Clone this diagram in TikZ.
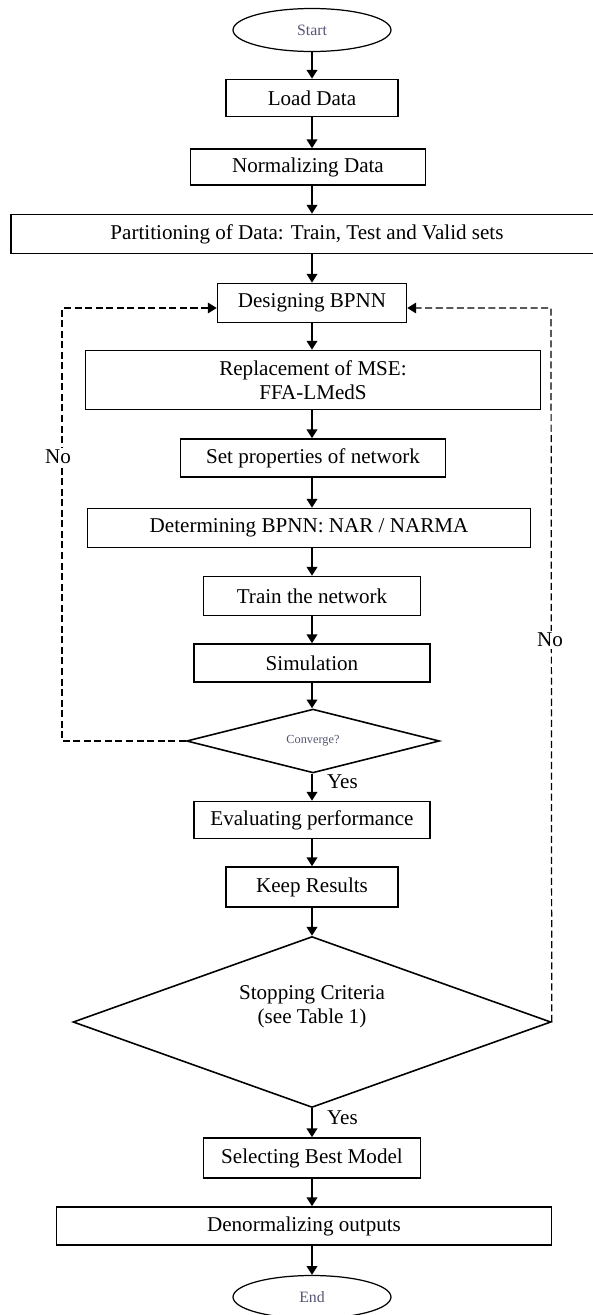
\documentclass[tikz,border=0pt]{standalone}
\usepackage{fontspec}
\setmainfont{Liberation Serif}
\usepackage{xcolor}
\usepackage{tikz}
\usetikzlibrary{arrows.meta, shapes.geometric}
\definecolor{termgray}{RGB}{85,85,115}
\newcommand{\boxfont}{\fontsize{12}{13.5}\selectfont}
\tikzset{
  block/.style={rectangle, draw=black, line width=0.9pt, align=center, font=\boxfont,
                inner sep=2pt},
  term/.style={ellipse, draw=black, line width=0.7pt, minimum width=3.16cm, minimum height=0.86cm,
               inner sep=0pt, font=\fontsize{9}{10}\selectfont, text=termgray},
  decision/.style={diamond, draw=black, line width=0.9pt, inner sep=0pt, align=center},
  arrowline/.style={-{Triangle[length=5pt,width=6pt]}, line width=1pt},
  dashline/.style={-{Triangle[length=5pt,width=6pt]}, line width=0.7pt, dash pattern=on 4pt off 2pt},
  lbl/.style={font=\boxfont, fill=white, inner sep=1pt},
}

\begin{document}
\begin{tikzpicture}[x=0.02cm, y=-0.02cm]
\useasboundingbox (0,0) rectangle (592,1315);

\node[term] (start) at (312,30) {Start};
\node[block, minimum width=3.44cm, minimum height=0.74cm] (load)   at (312,98)   {Load Data};
\node[block, minimum width=4.70cm, minimum height=0.72cm] (norm)   at (308,167)  {Normalizing Data};
\node[block, minimum width=11.84cm, minimum height=0.78cm](part)   at (307,234)  {Partitioning of Data: Train, Test and Valid sets};
\node[block, minimum width=3.78cm, minimum height=0.78cm] (design) at (312,303)  {Designing BPNN};
\node[block, minimum width=9.10cm, minimum height=1.18cm] (repl)   at (313,380)  {Replacement of MSE:\\FFA-LMedS};
\node[block, minimum width=5.30cm, minimum height=0.76cm] (setp)   at (313,458)  {Set properties of network};
\node[block, minimum width=8.86cm, minimum height=0.78cm] (detm)   at (309,528)  {Determining BPNN: NAR / NARMA};
\node[block, minimum width=4.34cm, minimum height=0.78cm] (train)  at (312,596)  {Train the network};
\node[block, minimum width=4.72cm, minimum height=0.76cm] (sim)    at (312,663)  {Simulation};
\node[decision, minimum width=5.06cm, minimum height=1.14cm, font=\fontsize{7}{8}\selectfont, text=termgray]
     (conv) at (313,741) {Converge?};
\node[block, minimum width=4.72cm, minimum height=0.74cm] (eval)   at (312,820)  {Evaluating performance};
\node[block, minimum width=3.44cm, minimum height=0.80cm] (keep)   at (312,887)  {Keep Results};
\node[decision, minimum width=9.56cm, minimum height=3.42cm,
      label={[yshift=0.3cm, align=center, font=\boxfont]center:Stopping Criteria\\(see Table 1)}]
     (stop) at (312,1022) {};
\node[block, minimum width=4.34cm, minimum height=0.80cm] (select) at (312,1158) {Selecting Best Model};
\node[block, minimum width=9.90cm, minimum height=0.76cm] (denorm) at (304,1226) {Denormalizing outputs};
\node[term] (end) at (312,1297) {End};

\coordinate (lturn) at (62,308);
\coordinate (rturn) at (551,308);

% main flow
\draw[arrowline] (start) -- (load);
\draw[arrowline] (load) -- (load |- norm.north);
\draw[arrowline] (load |- norm.south) -- (load |- part.north);
\draw[arrowline] (design |- part.south) -- (design);
\draw[arrowline] (design) -- (design |- repl.north);
\draw[arrowline] (design |- repl.south) -- (design |- setp.north);
\draw[arrowline] (design |- setp.south) -- (design |- detm.north);
\draw[arrowline] (design |- detm.south) -- (train);
\draw[arrowline] (train) -- (sim);
\draw[arrowline] (sim) -- (sim |- conv.north);
\draw[arrowline] (sim |- conv.south) -- (eval);
\draw[arrowline] (eval) -- (keep);
\draw[arrowline] (keep) -- (keep |- stop.north);
\draw[arrowline] (keep |- stop.south) -- (select);
\draw[arrowline] (select) -- (select |- denorm.north);
\draw[arrowline] (select |- denorm.south) -- (end);

% loops back
\draw[dashline] (conv.west) -| (lturn) -- (lturn -| design.west);
\draw[dashline] (stop.east) -- (rturn) -- (rturn -| design.east);

\node[lbl] (noleft)  at (58,457)  {No};
\node[lbl] (noright) at (550,640) {No};
\node[lbl, anchor=west] (yesconv) at (325,782)  {Yes};
\node[lbl, anchor=west] (yesstop) at (325,1118) {Yes};
\end{tikzpicture}
\end{document}
